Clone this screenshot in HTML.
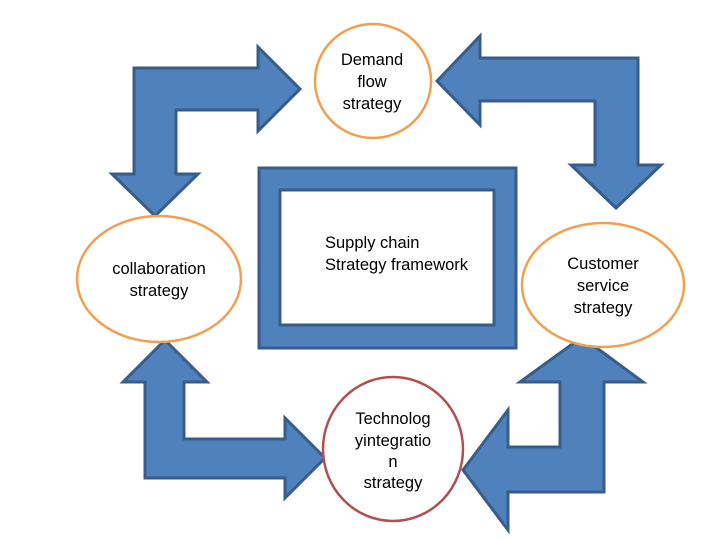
<!DOCTYPE html>
<html><head><style>body{margin:0;background:#fff}svg{display:block}text{font-family:"Liberation Sans",sans-serif;font-size:16.5px;fill:#000;text-anchor:middle}</style></head>
<body>
<svg width="720" height="540" viewBox="0 0 720 540" xmlns="http://www.w3.org/2000/svg">
<g fill="#4f81bd" stroke="#385d8a" stroke-width="3" stroke-linejoin="miter">
<polygon points="134,68 258,68 258,47 300,89 258,131 258,110 176,110 176,174 198,174 155,216 112,174 134,174"/>
<polygon points="437,81 480,36 480,58 638,58 638,165 661,165 616,208 571,165 595,165 595,101 480,101 480,125"/>
<polygon points="165,340 207,382 184,382 184,439 285,439 285,418 325,458 285,498 285,478 145,478 145,382 123,382"/>
<polygon points="582,337 643,382 604,382 604,492 508,492 508,530 463,470 508,410 508,447 560,447 560,382 520,382"/>
<rect x="259" y="168" width="257" height="180"/>
</g>
<rect x="280" y="190" width="214" height="135" fill="#fff" stroke="#385d8a" stroke-width="3"/>
<g fill="#fff" stroke-width="2.5">
<ellipse cx="373" cy="81" rx="58" ry="57" stroke="#f0a050"/>
<ellipse cx="159" cy="279" rx="82" ry="63" stroke="#f0a050"/>
<ellipse cx="603" cy="285" rx="81" ry="62" stroke="#f0a050"/>
<ellipse cx="393" cy="449" rx="70" ry="72" stroke="#b05050"/>
</g>
<text x="372" y="65">Demand</text><text x="372" y="87">flow</text><text x="372" y="109">strategy</text>
<text x="159" y="274">collaboration</text><text x="159" y="296">strategy</text>
<text x="603" y="269">Customer</text><text x="603" y="291">service</text><text x="603" y="313">strategy</text>
<text x="393" y="424">Technolog</text><text x="393" y="446">yintegratio</text><text x="393" y="467">n</text><text x="393" y="488">strategy</text>
<text x="325" y="248" style="text-anchor:start">Supply chain</text>
<text x="325" y="270" style="text-anchor:start">Strategy framework</text>
</svg>
</body></html>
